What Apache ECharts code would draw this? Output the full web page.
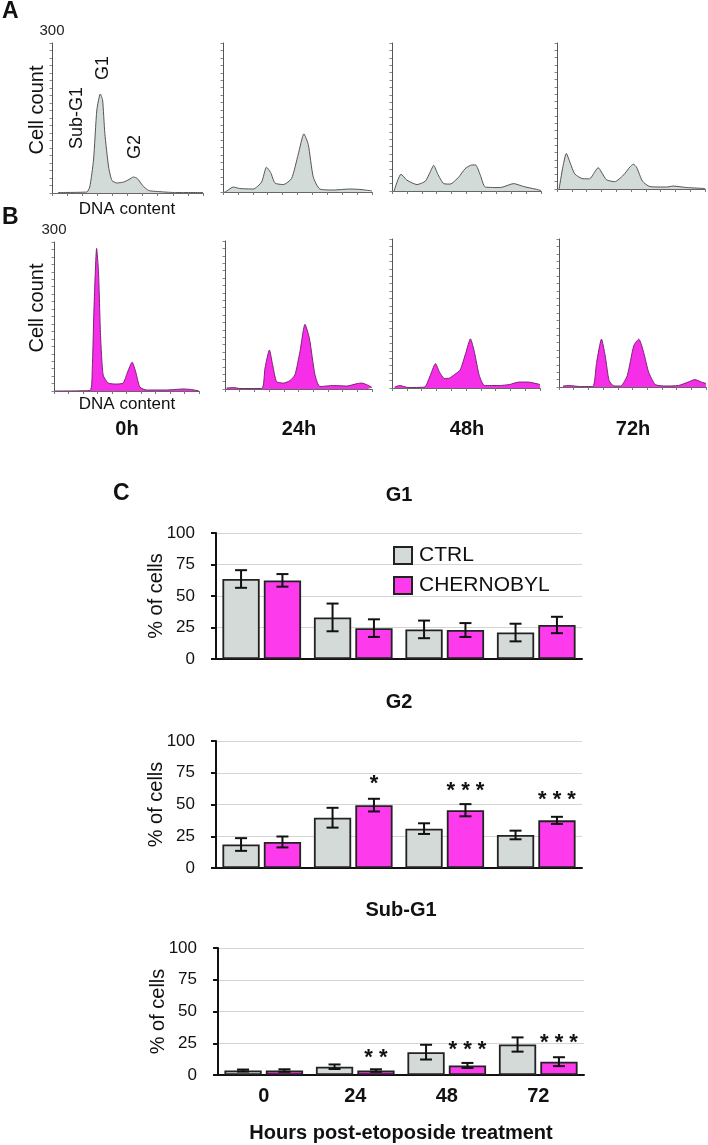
<!DOCTYPE html>
<html>
<head>
<meta charset="utf-8">
<script src="https://cdn.jsdelivr.net/npm/echarts/dist/echarts.min.js"></script>
<style>
html,body{margin:0;padding:0;background:#fff;}
#chart{width:708px;height:1145px;}
</style>
</head>
<body>
<div id="chart"></div>
<script>
// ---------- DATA ----------
// Flow-cytometry histograms: [DNA content (channel, 0-100), cell count]
const histCtrl0h  = [[4,1],[23,2],[25,12],[27.5,66],[29.7,166],[32,198],[33.5,186],[35,119],[37.5,52],[39.7,25],[43,20],[47.5,22],[51,27],[54,32],[56.5,29],[60,15],[64,5],[70,3],[81,1],[100,1]];
const histCtrl24h = [[1,0],[2.5,2],[6.9,10],[11.3,7],[20.3,6],[25.9,20],[29.2,50],[32,39],[34.9,18],[40.5,15],[46,27],[50.5,76],[54.3,117],[57.2,96],[60.6,30],[65,6],[74,4],[85,6],[92.6,5],[100,2]];
const histCtrl48h = [[1.4,0],[6,34],[10,22],[16.8,13],[22.4,20],[25.7,39],[28,52],[30.6,35],[34.7,15],[39,14],[44.7,28],[49,45],[52.6,52],[56,53],[59.3,32],[62.6,8],[72.7,7],[81.7,15],[88.4,9],[96,4],[100,1]];
const histCtrl72h = [[1.4,0],[4,46],[6.3,73],[9,53],[12,31],[17.6,21],[22,21],[25.5,35],[27.8,44],[30,35],[33.4,19],[39,15],[44.7,28],[49.2,45],[51.5,51],[53.7,45],[57.8,16],[62.7,5],[74,4],[78.5,6],[87.6,3],[100,1]];
const histCher0h  = [[0.7,0],[24.8,1],[26.4,45],[27.5,159],[29.4,287],[30.7,240],[32.1,112],[33.9,32],[37.4,16],[43.1,14],[47.7,16],[50.7,38],[53.9,58],[56.4,38],[59.2,8],[63.8,2],[77.5,2],[89,4],[94.7,3],[100,0]];
const histCher24h = [[1.1,2],[5.7,3],[10.2,1],[25,1],[27.2,42],[30.2,79],[32.4,49],[35.1,15],[39.7,12],[44.2,17],[47.6,29],[51,76],[54.4,131],[57.4,103],[61.2,29],[64.6,5],[73.7,7],[82.8,6],[90,11],[93,12],[97,8],[100,3]];
const histCher48h = [[1.8,2],[5.2,5],[10.8,1],[22,2],[25.4,22],[29.4,49],[32.1,32],[35.5,19],[38.9,20],[42.2,27],[46,36],[50,72],[53,99],[55.7,72],[59,25],[62.5,5],[72.6,5],[79.3,7],[86,12],[91.7,12],[97.3,9],[100,7]];
const histCher72h = [[2.7,2],[7.2,3],[13.9,1],[22.9,1],[25.6,50],[28.9,97],[31.4,64],[34.1,13],[37.4,2],[41.9,2],[46.4,23],[50.9,84],[54.3,97],[57.6,70],[61,30],[65.5,5],[72.2,2],[81.2,3],[87.9,10],[92.4,15],[96.9,10],[100,7]];
const histTimeLabels = ['0h','24h','48h','72h'];

// Bar charts (% of cells, mean and error)
const hours = ['0','24','48','72'];
const seriesNames = ['CTRL','CHERNOBYL'];
const g1Ctrl = [63.5, 33, 23.5, 21];     const g1CtrlErr = [7, 11, 7, 7];
const g1Cher = [62.4, 24.5, 23, 27];     const g1CherErr = [5, 7, 5.5, 6.5];
const g2Ctrl = [18.5, 39.6, 31, 26];     const g2CtrlErr = [5, 7.8, 4.2, 3.4];
const g2Cher = [20.5, 49.5, 45.5, 37.5]; const g2CherErr = [4.3, 5, 4.8, 2.8];
const subCtrl = [3.5, 6.5, 18, 24];      const subCtrlErr = [0.8, 1.8, 5.8, 5.6];
const subCher = [3.5, 3.5, 7.5, 10.5];   const subCherErr = [1, 1, 2, 3.5];
// significance marks (over CHERNOBYL bars) and their level in % units
const g2Stars = ['', '*', '* * *', '* * *'];   const g2StarLevel = [null, 70, 65, 57.5];
const subStars = ['', '* *', '* * *', '* * *']; const subStarLevel = [null, 17, 24, 29];
const yTicks = [0, 25, 50, 75, 100];

// ---------- STYLE / LAYOUT ----------
const FONT = '"Liberation Sans", Arial, Helvetica, sans-serif';
const CTRL_COLOR = '#d4dad7';
const CHER_COLOR = '#fd3bec';
const HIST_GREY = '#d3dbd8';
const HIST_PINK = '#f62ee8';
const CAT_GAP = 0.14, BAR_GAP = 0.11;

const histLayout = [
  // row A
  {left:52, top:43, width:151, height:150},
  {left:223, top:43, width:149, height:149},
  {left:392, top:43, width:149, height:148},
  {left:557, top:43, width:148, height:146},
  // row B
  {left:54, top:242, width:145, height:149},
  {left:225, top:241, width:147, height:148},
  {left:392, top:239, width:148, height:149},
  {left:559, top:239, width:147, height:148}
];
const histData = [histCtrl0h, histCtrl24h, histCtrl48h, histCtrl72h, histCher0h, histCher24h, histCher48h, histCher72h];

const barLayout = [
  {left:216, right:126, top:533, height:126},
  {left:216, right:126, top:741, height:127},
  {left:218, right:124, top:948, height:127}
];

const grids = [], xAxes = [], yAxes = [], series = [];

histLayout.forEach((g, i) => {
  grids.push({left:g.left, top:g.top, width:g.width, height:g.height, containLabel:false});
  xAxes.push({type:'value', gridIndex:i, min:0, max:100, interval:10,
    axisLine:{show:true, lineStyle:{color:'#666', width:1}},
    axisTick:{show:true, length:3, lineStyle:{color:'#777', width:1}},
    axisLabel:{show:false}, splitLine:{show:false}});
  yAxes.push({type:'value', gridIndex:i, min:0, max:300, interval:15,
    name: (i % 4 === 0) ? '300' : '', nameLocation:'end', nameGap:5,
    nameTextStyle:{fontFamily:FONT, fontSize:15, color:'#222', align:'center'},
    axisLine:{show:true, lineStyle:{color:'#555', width:1}},
    axisTick:{show:true, length:2.5, lineStyle:{color:'#888', width:1}},
    axisLabel:{show:false}, splitLine:{show:false}});
  const pink = i >= 4;
  series.push({type:'line', xAxisIndex:i, yAxisIndex:i, data:histData[i], smooth:0.2,
    symbol:'none', silent:true,
    lineStyle:{color: pink ? '#7a2474' : '#555', width:1},
    areaStyle:{color: pink ? HIST_PINK : HIST_GREY, opacity:1}});
});

function errorSeries(axisIdx, vals, errs, side) {
  return {type:'custom', xAxisIndex:axisIdx, yAxisIndex:axisIdx, z:10, silent:true,
    data: vals.map((v, i) => [i, v, errs[i]]),
    renderItem: function (params, api) {
      const i = api.value(0), v = api.value(1), e = api.value(2);
      const band = api.size([1, 0])[0];
      const bw = band * (1 - CAT_GAP) / (2 + BAR_GAP);
      const off = side * bw * (1 + BAR_GAP) / 2;
      const top = api.coord([i, v + e]);
      const bot = api.coord([i, Math.max(v - e, 0)]);
      const x = top[0] + off;
      const st = {stroke:'#111', lineWidth:2};
      return {type:'group', children:[
        {type:'line', shape:{x1:x, y1:top[1], x2:x, y2:bot[1]}, style:st},
        {type:'line', shape:{x1:x-6, y1:top[1], x2:x+6, y2:top[1]}, style:st},
        {type:'line', shape:{x1:x-6, y1:bot[1], x2:x+6, y2:bot[1]}, style:st}
      ]};
    }};
}

function starSeries(axisIdx, labels, levels) {
  const items = [];
  labels.forEach((t, i) => { if (t) items.push({value:[i, levels[i]], txt:t}); });
  return {type:'custom', xAxisIndex:axisIdx, yAxisIndex:axisIdx, z:11, silent:true,
    data: items.map(d => d.value),
    renderItem: function (params, api) {
      const i = api.value(0), lv = api.value(1);
      const band = api.size([1, 0])[0];
      const bw = band * (1 - CAT_GAP) / (2 + BAR_GAP);
      const off = bw * (1 + BAR_GAP) / 2;
      const p = api.coord([i, lv]);
      return {type:'text', x:p[0] + off, y:p[1] + 5,
        style:{text: items[params.dataIndex].txt, fill:'#111',
          font:'bold 22px ' + FONT, align:'center', verticalAlign:'middle',
          textAlign:'center', textVerticalAlign:'middle'}};
    }};
}

const barSets = [
  {ctrl:g1Ctrl, ctrlErr:g1CtrlErr, cher:g1Cher, cherErr:g1CherErr, stars:null},
  {ctrl:g2Ctrl, ctrlErr:g2CtrlErr, cher:g2Cher, cherErr:g2CherErr, stars:[g2Stars, g2StarLevel]},
  {ctrl:subCtrl, ctrlErr:subCtrlErr, cher:subCher, cherErr:subCherErr, stars:[subStars, subStarLevel]}
];

barLayout.forEach((g, k) => {
  const idx = 8 + k;
  const last = k === 2;
  grids.push({left:g.left, right:g.right, top:g.top, height:g.height, containLabel:false});
  xAxes.push({type:'category', gridIndex:idx, data:hours,
    axisLine:{show:true, lineStyle:{color:'#111', width:2}},
    axisTick:{show:false},
    axisLabel:{show:last, fontFamily:FONT, fontSize:20, fontWeight:'bold', color:'#111', margin:11},
    name: last ? 'Hours post-etoposide treatment' : '', nameLocation:'middle', nameGap:48,
    nameMoveOverlap:false,
    nameTextStyle:{fontFamily:FONT, fontSize:20, fontWeight:'bold', color:'#111'}});
  yAxes.push({type:'value', gridIndex:idx, min:yTicks[0], max:yTicks[yTicks.length-1], interval:yTicks[1]-yTicks[0],
    name:'% of cells', nameLocation:'middle', nameGap:50, nameRotate:90, nameMoveOverlap:false,
    nameTextStyle:{fontFamily:FONT, fontSize:20, color:'#111'},
    axisLine:{show:true, lineStyle:{color:'#111', width:2}},
    axisTick:{show:true, inside:false, length:5, lineStyle:{color:'#111', width:2}},
    axisLabel:{fontFamily:FONT, fontSize:17, color:'#111', margin:21},
    splitLine:{show:true, lineStyle:{color:'#d4d4d4', width:1}}});
  const s = barSets[k];
  series.push({type:'bar', name:seriesNames[0], xAxisIndex:idx, yAxisIndex:idx, data:s.ctrl,
    barCategoryGap:(CAT_GAP*100)+'%', barGap:(BAR_GAP*100)+'%',
    itemStyle:{color:CTRL_COLOR, borderColor:'#222', borderWidth:1.8}});
  series.push({type:'bar', name:seriesNames[1], xAxisIndex:idx, yAxisIndex:idx, data:s.cher,
    barCategoryGap:(CAT_GAP*100)+'%', barGap:(BAR_GAP*100)+'%',
    itemStyle:{color:CHER_COLOR, borderColor:'#222', borderWidth:1.8}});
  series.push(errorSeries(idx, s.ctrl, s.ctrlErr, -1));
  series.push(errorSeries(idx, s.cher, s.cherErr, 1));
  if (s.stars) series.push(starSeries(idx, s.stars[0], s.stars[1]));
});

function txt(text, x, y, size, opts) {
  opts = opts || {};
  return {type:'text', x:x, y:y, rotation: opts.rot || 0, silent:true,
    style:{text:text, fill:'#111', font:(opts.bold ? 'bold ' : '') + size + 'px ' + FONT,
      align:opts.align || 'center', verticalAlign:'middle',
      textAlign:opts.align || 'center', textVerticalAlign:'middle'}};
}

const graphics = [
  txt('A', 2, 12, 23, {bold:true, align:'left'}),
  txt('B', 2, 218, 23, {bold:true, align:'left'}),
  txt('C', 113, 494, 23, {bold:true, align:'left'}),
  txt('Cell count', 37, 110, 20, {rot:Math.PI/2}),
  txt('Cell count', 37, 308, 20, {rot:Math.PI/2}),
  txt('Sub-G1', 77, 118, 18, {rot:Math.PI/2}),
  txt('G1', 103, 68, 18, {rot:Math.PI/2}),
  txt('G2', 135, 147, 18, {rot:Math.PI/2}),
  txt('DNA content', 127, 209, 17),
  txt('DNA content', 127, 404, 17),
  txt('G1', 399, 495, 20, {bold:true}),
  txt('G2', 399, 702, 20, {bold:true}),
  txt('Sub-G1', 401, 910, 20, {bold:true})
];
const histCenters = [127, 299, 467, 633];
histTimeLabels.forEach((t, i) => graphics.push(txt(t, histCenters[i], 429, 20, {bold:true})));

const option = {
  animation:false,
  backgroundColor:'#ffffff',
  textStyle:{fontFamily:FONT},
  grid:grids, xAxis:xAxes, yAxis:yAxes, series:series,
  legend:{show:true, data:seriesNames, orient:'vertical', left:388, top:540,
    itemWidth:18, itemHeight:17, itemGap:9, icon:'rect',
    textStyle:{fontFamily:FONT, fontSize:21, color:'#111', padding:[0,0,0,2]}},
  graphic:{elements:graphics}
};

const chart = echarts.init(document.getElementById('chart'), null, {renderer:'canvas'});
chart.setOption(option);
</script>
</body>
</html>
